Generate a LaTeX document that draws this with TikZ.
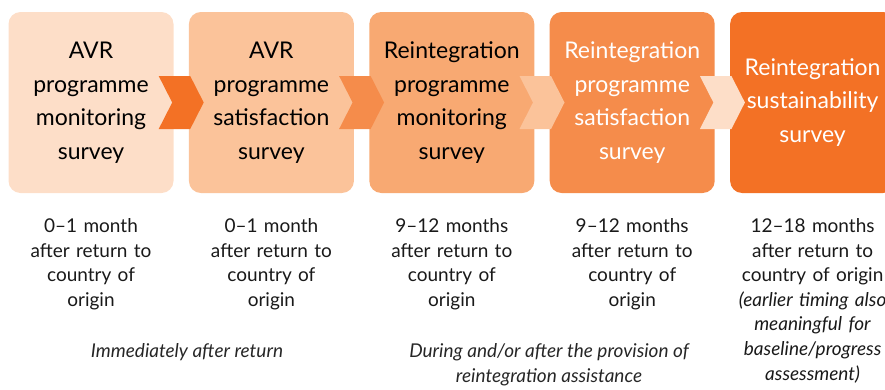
\documentclass[tikz,border=0pt]{standalone}
\usepackage{fontspec}
\setmainfont{Lato}
\usetikzlibrary{positioning, calc, shapes.symbols}

\definecolor{peachA}{HTML}{FDDEC8}
\definecolor{peachB}{HTML}{FBC39A}
\definecolor{peachC}{HTML}{F8A972}
\definecolor{peachD}{HTML}{F58C4B}
\definecolor{peachE}{HTML}{F37125}

\begin{document}
\begin{tikzpicture}[x=1pt, y=-1pt,
  survey/.style={rectangle, rounded corners=12pt, minimum width=165pt, minimum height=181pt,
    inner sep=0pt, text width=160pt, align=center, font=\fontsize{23}{33.5}\selectfont},
  chev/.style={signal, signal to=east, signal from=west, signal pointer angle=126,
    minimum width=45pt, minimum height=53pt, inner sep=0pt},
  timing/.style={text width=170pt, align=center, anchor=north, inner sep=0pt,
    font=\fontsize{19}{24.6}\selectfont, text=black!90},
  period/.style={align=center, inner sep=0pt, text=black!85,
    font=\fontsize{19}{25}\selectfont\itshape}
]

\clip (0,0) rectangle (885,389);

% Draw survey boxes
\node[survey, fill=peachA] (b1) at (91,102.5) {AVR\\programme\\monitoring\\survey};
\node[survey, fill=peachB, right=15pt of b1] (b2) {AVR\\programme\\satisfaction\\survey};
\node[survey, fill=peachC, right=15pt of b2] (b3) {Reintegration\\programme\\monitoring\\survey};
\node[survey, fill=peachD, right=15pt of b3, text=white] (b4) {Reintegration\\programme\\satisfaction\\survey};
\node[survey, fill=peachE, right=15pt of b4, text=white] (b5) {Reintegration\\sustainability\\survey};

% Chevrons between the boxes
\node[chev, fill=peachE] (c1) at ($(b1.east)!0.5!(b2.west)$) {};
\node[chev, fill=peachD] (c2) at ($(b2.east)!0.5!(b3.west)$) {};
\node[chev, fill=peachB] (c3) at ($(b3.east)!0.5!(b4.west)$) {};
\node[chev, fill=peachA] (c4) at ($(b4.east)!0.5!(b5.west)$) {};

% Timing under each box
\node[timing, below=25pt of b1] (t1) {0--1 month\\after return to\\country of\\origin};
\node[timing, below=25pt of b2] (t2) {0--1 month\\after return to\\country of\\origin};
\node[timing, below=25pt of b3] (t3) {9--12 months\\after return to\\country of\\origin};
\node[timing, below=25pt of b4] (t4) {9--12 months\\after return to\\country of\\origin};
\node[timing, below=25pt of b5] (t5) {12--18 months\\after return to\\country of origin\\
  \textit{(earlier timing also}\\\textit{meaningful for}\\\textit{baseline/progress}\\\textit{assessment)}};

% Periods
\node[period] (p1) at (187,352) {Immediately after return};
\node[period] (p2) at (549,364.5) {During and/or after the provision of\\reintegration assistance};

\end{tikzpicture}
\end{document}
